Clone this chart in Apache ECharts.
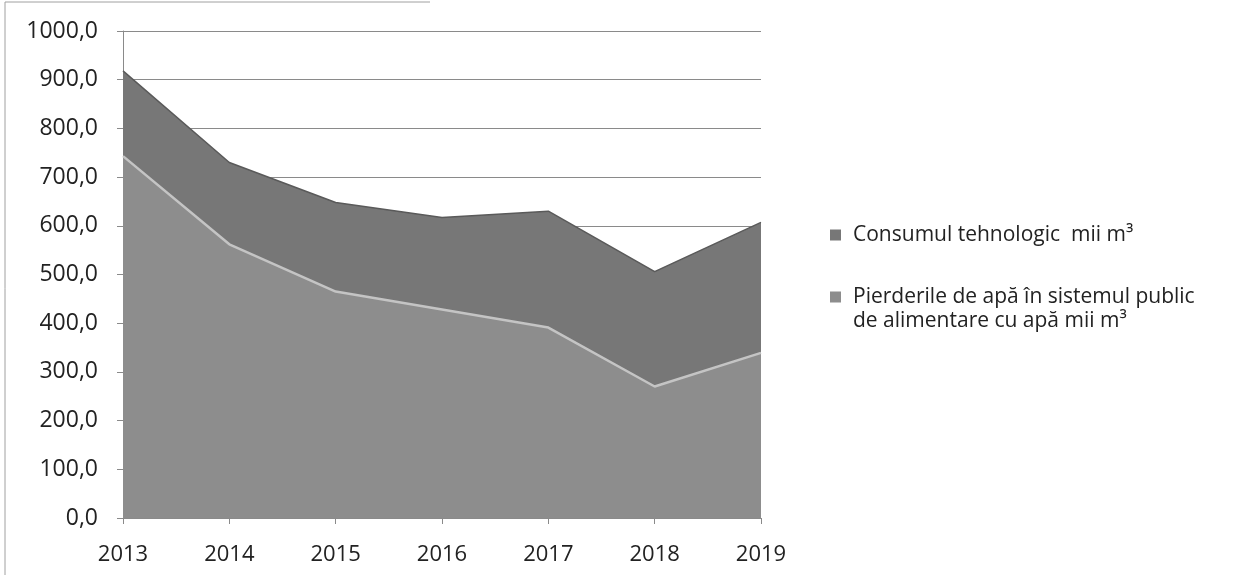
<!DOCTYPE html>
<html>
<head>
<meta charset="utf-8">
<script src="https://cdn.jsdelivr.net/npm/echarts@6/dist/echarts.min.js"></script>
<style>html,body{margin:0;padding:0;background:#fff}#c{width:1234px;height:575px}</style>
</head>
<body>
<div id="c"></div>
<script>
var years = ['2013','2014','2015','2016','2017','2018','2019'];
var pierderile = [743, 562, 465, 428, 391, 270, 339];
var consumul = [175, 168, 183, 189, 239, 236, 268];
var nameConsumul = 'Consumul tehnologic  mii m³';
var namePierderile = 'Pierderile de apă în sistemul public';
var namePierderile2 = 'de alimentare cu apă mii m³';

var font = '"Open Sans", "Liberation Sans", sans-serif';
var chart = echarts.init(document.getElementById('c'), null, {renderer: 'canvas'});
chart.setOption({
  animation: false,
  backgroundColor: '#ffffff',
  grid: {left: 123, right: 473, top: 31, bottom: 57, containLabel: false},
  xAxis: {
    type: 'category', data: years, boundaryGap: false,
    axisLine: {lineStyle: {color: '#8a8a8a', width: 1}},
    axisTick: {show: true, alignWithLabel: true, length: 6, lineStyle: {color: '#8a8a8a'}},
    axisLabel: {color: '#222', fontSize: 22, fontFamily: font, margin: 26, lineHeight: 22},
    splitLine: {show: false}
  },
  yAxis: {
    type: 'value', min: 0, max: 1000, interval: 100,
    axisLine: {show: true, lineStyle: {color: '#8a8a8a', width: 1}},
    axisTick: {show: true, length: 6, lineStyle: {color: '#8a8a8a'}},
    axisLabel: {color: '#222', fontSize: 23, fontFamily: font, margin: 25,
      formatter: function (v) { return v.toFixed(1).replace('.', ','); }},
    splitLine: {show: true, lineStyle: {color: '#8a8a8a', width: 1}}
  },
  legend: {
    orient: 'vertical', left: 825, top: 219, itemGap: 40,
    itemWidth: 11, itemHeight: 11, icon: 'rect',
    data: [nameConsumul, namePierderile],
    textStyle: {color: '#222', fontSize: 21, fontFamily: font, lineHeight: 22, padding: [0, 0, 0, 7]}
  },
  graphic: [
    {type: 'polyline', shape: {points: [[5, 575], [5, 2], [430, 2]]},
     style: {fill: 'none', stroke: '#a0a0a0', lineWidth: 1}, silent: true},
    {type: 'text', left: 853, top: 310,
     style: {text: namePierderile2, fill: '#222', font: '21px ' + font, lineHeight: 22}}
  ],
  series: [
    {name: namePierderile, type: 'line', stack: 'total', data: pierderile,
     symbol: 'none', z: 3,
     lineStyle: {color: '#c4c4c4', width: 2.5},
     itemStyle: {color: '#8d8d8d'},
     areaStyle: {color: '#8d8d8d', opacity: 1}},
    {name: nameConsumul, type: 'line', stack: 'total', data: consumul,
     symbol: 'none', z: 2,
     lineStyle: {color: '#5a5a5a', width: 1.5},
     itemStyle: {color: '#777777'},
     areaStyle: {color: '#777777', opacity: 1}}
  ]
});
</script>
</body>
</html>
